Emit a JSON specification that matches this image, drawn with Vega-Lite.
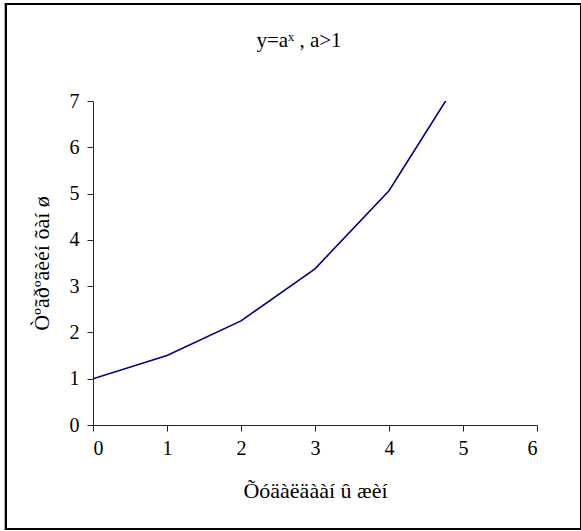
{
  "$schema": "https://vega.github.io/schema/vega-lite/v6.json",
  "width": 444,
  "height": 324,
  "padding": {"left": 4, "top": 3, "right": 0, "bottom": 0},
  "background": "white",
  "title": {
    "text": "y=aˣ , a>1",
    "font": "Liberation Serif",
    "fontSize": 21,
    "fontWeight": "normal",
    "color": "black",
    "offset": -48,
    "dx": -16
  },
  "config": {
    "view": {"stroke": null},
    "axis": {
      "labelFont": "Liberation Serif",
      "titleFont": "Liberation Serif",
      "labelFontSize": 20,
      "titleFontSize": 22,
      "titleFontWeight": "normal",
      "labelColor": "black",
      "titleColor": "black",
      "domainColor": "#222222",
      "tickColor": "#222222",
      "grid": false,
      "tickSize": 6,
      "format": "d"
    }
  },
  "data": {
    "values": [
      {"x": 0, "y": 1},
      {"x": 1, "y": 1.5},
      {"x": 2, "y": 2.25},
      {"x": 3, "y": 3.375},
      {"x": 4, "y": 5.0625},
      {"x": 5, "y": 7.59375}
    ]
  },
  "layer": [
    {
      "mark": {"type": "line", "color": "#000080", "strokeWidth": 1.6, "clip": true},
      "encoding": {
        "x": {
          "field": "x",
          "type": "quantitative",
          "scale": {"domain": [0, 6], "nice": false, "zero": false},
          "axis": {
            "values": [0, 1, 2, 3, 4, 5, 6],
            "title": "Õóäàëäààí û æèí",
            "labelPadding": 7,
            "titlePadding": 22
          }
        },
        "y": {
          "field": "y",
          "type": "quantitative",
          "scale": {"domain": [0, 7], "nice": false},
          "axis": {
            "values": [0, 1, 2, 3, 4, 5, 6, 7],
            "title": "Òºãðºãèéí õàí ø",
            "labelPadding": 8,
            "titlePadding": 16
          }
        }
      }
    },
    {
      "mark": {"type": "rect", "fill": null, "stroke": "black", "strokeWidth": 2, "clip": false},
      "encoding": {
        "x": {"datum": -1.1765},
        "x2": {"datum": 6.6},
        "y": {"datum": 9.095},
        "y2": {"datum": -2.247}
      }
    }
  ]
}
